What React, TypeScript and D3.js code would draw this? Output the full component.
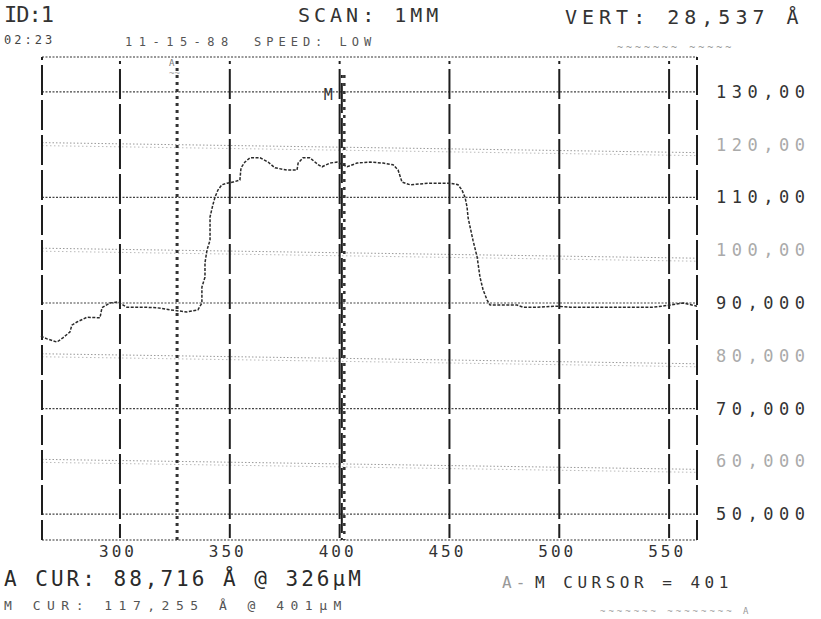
import React from "react";
import * as d3 from "d3";

// profile scan values (um, Å x1000)
const scanPos = [264.0, 266.8, 271.3, 274.0, 277.2, 278.1, 280.4, 285.0, 290.9, 291.8, 295.4, 299.1, 303.2, 310.5, 316.8, 322.8, 330.5, 335.5, 337.3, 337.3, 338.7, 338.7, 339.6, 341.0, 341.0, 342.3, 343.3, 344.6, 346.4, 348.7, 351.5, 354.6, 355.1, 356.9, 359.2, 363.8, 367.4, 370.6, 376.0, 380.6, 381.1, 383.3, 386.5, 390.2, 392.0, 395.6, 398.8, 403.4, 407.9, 413.8, 419.8, 424.3, 426.6, 428.4, 432.1, 441.2, 450.3, 453.9, 455.7, 457.1, 458.0, 458.5, 459.4, 460.7, 462.6, 463.9, 465.3, 467.1, 468.5, 471.7, 480.8, 483.5, 489.9, 499.0, 504.9, 519.9, 535.4, 542.7, 550.5, 556.4, 562.7];
const scanHeight = [83.7, 83.2, 82.6, 83.4, 84.5, 85.8, 86.4, 87.3, 87.2, 89.1, 90.0, 90.2, 89.2, 89.2, 89.1, 88.7, 88.3, 88.7, 90.0, 93.0, 94.9, 97.6, 100.0, 101.9, 106.3, 108.6, 110.1, 111.4, 112.4, 112.7, 112.9, 113.3, 115.6, 116.7, 117.5, 117.5, 116.7, 115.6, 115.2, 115.2, 116.5, 117.5, 117.5, 116.2, 115.8, 116.5, 116.7, 115.8, 116.5, 116.7, 116.5, 116.2, 115.2, 112.9, 112.4, 112.7, 112.7, 112.4, 111.4, 110.0, 108.2, 106.1, 104.4, 101.9, 98.7, 94.9, 92.5, 90.6, 89.6, 89.6, 89.6, 89.2, 89.2, 89.4, 89.2, 89.2, 89.2, 89.2, 89.6, 90.0, 89.4];

const xTicks = [300, 350, 400, 450, 500, 550];
const yTicks = [130, 120, 110, 100, 90, 80, 70, 60, 50];
const yTickLabels = ["130,00", "120,00", "110,00", "100,00", "90,000", "80,000", "70,000", "60,000", "50,000"];

const cursorA = 326;
const cursorM = 401;

const W = 821;
const H = 619;
const font = "'DejaVu Sans Mono', monospace";
const ink = "#1e1e1e";

export default function App() {
  const x = d3.scaleLinear().domain([264.5, 562.7]).range([42, 697]);
  const y = d3.scaleLinear().domain([45.1, 136.6]).range([540, 57]);

  const pts = scanPos.map((p, i) => [p, scanHeight[i]] as [number, number]);
  const line = d3.line<[number, number]>().x((d) => x(d[0])).y((d) => y(d[1]));

  const [x0, x1] = x.range();
  const [yb, yt] = y.range();

  return (
    <svg width={W} height={H} style={{ position: "absolute", left: 0, top: 0, background: "#fff" }}>
      <rect width={W} height={H} fill="#fff" />

      {/* header */}
      <g fontFamily={font} fill="#333">
        <text x={4} y={22} fontSize={22} letterSpacing={-1}>ID:1</text>
        <text x={298} y={22} fontSize={20} letterSpacing={4}>SCAN: 1MM</text>
        <text x={565} y={24} fontSize={20} letterSpacing={5}>VERT:  28,537  Å</text>
        <text x={4} y={44} fontSize={12} letterSpacing={3} fill="#444">02:23</text>
        <text x={125} y={46} fontSize={12} letterSpacing={6.5} fill="#555">11-15-88</text>
        <text x={254} y={46} fontSize={12} letterSpacing={5} fill="#555">SPEED: LOW</text>
        <text x={617} y={51} fontSize={10} letterSpacing={3} fill="#999">~~~~~~~ ~~~~~</text>
      </g>

      {/* horizontal grid */}
      {yTicks.map((v, i) => {
        const strong = i % 2 === 0;
        return (
          <line key={"h" + v} x1={x0} x2={x1} y1={y(v) - (strong ? 0 : 2)} y2={y(v) + (strong ? 0 : 8)}
            stroke={strong ? "#444" : "#999"} strokeWidth={strong ? 1.2 : 1} strokeDasharray={strong ? "2,1.5" : "1.5,2"} />
        );
      })}
      {yTicks.filter((_, i) => i % 2 === 1).map((v) => (
        <line key={"h2" + v} x1={x0} x2={x1} y1={y(v) + 1} y2={y(v) + 11}
          stroke="#bbb" strokeWidth={1} strokeDasharray="1.5,2.5" />
      ))}

      {/* frame */}
      <line x1={x0} x2={x1} y1={yt} y2={yt} stroke="#333" strokeWidth={1.2} strokeDasharray="2,1.5" />
      <line x1={x0} x2={x1} y1={yb} y2={yb} stroke="#333" strokeWidth={1.2} strokeDasharray="2,1.5" />
      <line x1={x0} x2={x0} y1={yt} y2={yb} stroke={ink} strokeWidth={2} strokeDasharray="30,5" strokeDashoffset={-8} />
      <line x1={x1} x2={x1} y1={yt} y2={yb} stroke={ink} strokeWidth={2} strokeDasharray="30,5" strokeDashoffset={-8} />

      {/* vertical grid */}
      {xTicks.map((v) => (
        <line key={"v" + v} x1={x(v)} x2={x(v)} y1={yt + 4} y2={yb - 2}
          stroke={ink} strokeWidth={2} strokeDasharray="30,5" strokeDashoffset={-8} />
      ))}

      {/* cursors */}
      <line x1={x(cursorA)} x2={x(cursorA)} y1={yt + 4} y2={yb} stroke="#333" strokeWidth={3} strokeDasharray="3,4" />
      <text x={x(cursorA) - 8} y={yt + 9} fontFamily={font} fontSize={9} fill="#777">A</text>
      <text x={x(cursorA) - 8} y={yt + 19} fontFamily={font} fontSize={9} fill="#999">~~</text>
      <line x1={x(cursorM)} x2={x(cursorM)} y1={yt + 18} y2={yb} stroke={ink} strokeWidth={2} strokeDasharray="30,5" strokeDashoffset={-8} />
      <line x1={x(cursorM) + 2.5} x2={x(cursorM) + 2.5} y1={yt + 18} y2={yb} stroke="#333" strokeWidth={2.5} strokeDasharray="3,5" />
      <text x={x(cursorM) - 18} y={y(130) + 8} fontFamily={font} fontSize={15} fill="#333">M</text>

      {/* trace */}
      <path d={line(pts) || ""} fill="none" stroke="#2a2a2a" strokeWidth={1.5} strokeDasharray="3,1.5" />

      {/* right value labels */}
      <g fontFamily={font}>
        {yTicks.map((v, i) => (
          <text key={"yl" + v} x={716} y={y(v) + 6} fontSize={17} letterSpacing={5.5}
            fill={i % 2 === 0 ? "#333" : "#aaa"}>{yTickLabels[i]}</text>
        ))}
      </g>

      {/* bottom tick labels */}
      <g fontFamily={font} fill="#333">
        {xTicks.map((v) => (
          <text key={"xl" + v} x={x(v) - 2} y={557} fontSize={16} letterSpacing={3} textAnchor="middle">{v}</text>
        ))}
      </g>

      {/* footer */}
      <g fontFamily={font} fill="#2a2a2a">
        <text x={4} y={586} fontSize={21} letterSpacing={3}>A CUR: 88,716 Å  @ 326µM</text>
        <text x={4} y={610} fontSize={13} letterSpacing={6.5} fill="#555">M CUR: 117,255 Å @ 401µM</text>
        <text x={502} y={588} fontSize={16} letterSpacing={4} fill="#999">A-</text>
        <text x={535} y={588} fontSize={16} letterSpacing={4.5} fill="#333">M CURSOR = 401</text>
        <text x={600} y={614} fontSize={9} letterSpacing={3} fill="#999">~~~~~~~  ~~~~~~~~   A</text>
      </g>
    </svg>
  );
}
